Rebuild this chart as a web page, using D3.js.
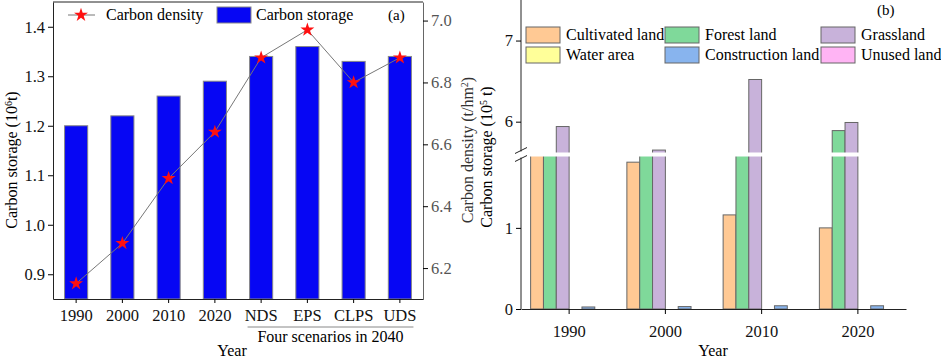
<!DOCTYPE html>
<html lang="en">
<head>
    <meta charset="UTF-8">
    <title>Carbon storage</title>
</head>
<body style="margin:0">
<svg id="chart" width="941" height="360"></svg>
</body>
<script src='https://d3js.org/d3.v7.min.js' type='text/javascript'></script>
<style>
    text { font-family: "Liberation Serif", "Times New Roman", serif; }
</style>
<script>
    // ---- panel (a) data
    var periods = ['1990', '2000', '2010', '2020', 'NDS', 'EPS', 'CLPS', 'UDS'];
    var storage = [1.20, 1.22, 1.26, 1.29, 1.34, 1.36, 1.33, 1.34];
    var density = [6.15, 6.28, 6.49, 6.64, 6.88, 6.97, 6.80, 6.88];
    var storageTicks = [0.9, 1.0, 1.1, 1.2, 1.3, 1.4];
    var densityTicks = [6.2, 6.4, 6.6, 6.8, 7.0];

    // ---- panel (b) data
    var years = ['1990', '2000', '2010', '2020'];
    var landTypes = ['Cultivated land', 'Forest land', 'Grassland', 'Water area', 'Construction land', 'Unused land'];
    var cultivated = [2.4, 1.81, 1.16, 1.00];
    var forest = [4.8, 5.0, 5.3, 5.89];
    var grassland = [5.94, 5.65, 6.52, 5.99];
    var water = [0, 0, 0, 0];
    var construction = [0.025, 0.03, 0.04, 0.04];
    var unused = [0, 0, 0, 0];
    var lowTicks = [0, 1];
    var highTicks = [6, 7];

    var svg = d3.select('#chart');
    var fs = 15;   // legend / titles
    var ts = 16.5; // tick labels

    // ================= panel (a)
    var ax = d3.scaleBand().domain(periods).range([53, 423]).paddingInner(0.5).paddingOuter(0.25);
    var yS = d3.scaleLinear().domain([0.85, 1.45]).range([299, 2]);
    var yD = d3.scaleLinear().domain([6.1, 7.06]).range([299, 2]);

    var pa = svg.append('g');

    pa.selectAll('rect.bar')
        .data(storage)
        .enter()
        .append('rect')
        .attr('class', 'bar')
        .attr('x', function (d, i) { return ax(periods[i]); })
        .attr('width', ax.bandwidth())
        .attr('y', function (d) { return yS(d); })
        .attr('height', function (d) { return yS(0.85) - yS(d); })
        .attr('fill', '#0606f4')
        .attr('stroke', '#888')
        .attr('stroke-width', 1);

    // frame top
    pa.append('line')
        .attr('x1', 53).attr('x2', 423)
        .attr('y1', yS(1.45)).attr('y2', yS(1.45))
        .attr('stroke', '#222');

    var leftAxis = pa.append('g')
        .attr('transform', 'translate(53,0)')
        .call(d3.axisLeft(yS).tickValues(storageTicks).tickFormat(d3.format('.1f')).tickSize(5).tickSizeOuter(0));
    var rightAxis = pa.append('g')
        .attr('transform', 'translate(423,0)')
        .call(d3.axisRight(yD).tickValues(densityTicks).tickFormat(d3.format('.1f')).tickSize(5).tickSizeOuter(0));
    var bottomAxis = pa.append('g')
        .attr('transform', 'translate(0,299)')
        .call(d3.axisBottom(ax).tickSize(4).tickSizeOuter(0));

    [leftAxis, rightAxis, bottomAxis].forEach(function (a) {
        a.selectAll('text').style('font-size', ts + 'px').attr('fill', '#111');
        a.select('.domain').attr('stroke', '#222');
    });
    rightAxis.selectAll('text').attr('fill', '#555');
    rightAxis.select('.domain').attr('stroke', '#666');
    bottomAxis.selectAll('text').attr('dy', '0.9em');

    // density line
    var line = d3.line()
        .x(function (d, i) { return ax(periods[i]) + ax.bandwidth() / 2; })
        .y(function (d) { return yD(d); });
    pa.append('path')
        .datum(density)
        .attr('d', line)
        .attr('fill', 'none')
        .attr('stroke', '#777')
        .attr('stroke-width', 1);

    var star = d3.symbol().type(d3.symbolStar).size(60);
    pa.selectAll('path.star')
        .data(density)
        .enter()
        .append('path')
        .attr('class', 'star')
        .attr('d', star)
        .attr('transform', function (d, i) {
            return 'translate(' + (ax(periods[i]) + ax.bandwidth() / 2) + ',' + yD(d) + ')';
        })
        .attr('fill', '#ff1010');

    // legend (a)
    pa.append('line').attr('x1', 68).attr('x2', 95).attr('y1', 15).attr('y2', 15).attr('stroke', '#777');
    pa.append('path').attr('d', star).attr('transform', 'translate(81,15)').attr('fill', '#ff1010');
    pa.append('text').attr('x', 106).attr('y', 20).style('font-size', '16px').text('Carbon density');
    pa.append('rect').attr('x', 217).attr('y', 7).attr('width', 34).attr('height', 16)
        .attr('fill', '#0606f4').attr('stroke', '#888');
    pa.append('text').attr('x', 256).attr('y', 20).style('font-size', '16px').text('Carbon storage');
    pa.append('text').attr('x', 388).attr('y', 20).style('font-size', fs + 'px').text('(a)');

    // scenario bracket
    pa.append('line')
        .attr('x1', ax('NDS') - 2).attr('x2', ax('UDS') + ax.bandwidth() + 2)
        .attr('y1', 327).attr('y2', 327)
        .attr('stroke', '#888');
    pa.append('text')
        .attr('x', (ax('NDS') + ax('UDS') + ax.bandwidth()) / 2).attr('y', 342)
        .attr('text-anchor', 'middle').style('font-size', '16px')
        .text('Four scenarios in 2040');
    pa.append('text')
        .attr('x', 232).attr('y', 356)
        .attr('text-anchor', 'middle').style('font-size', '16px')
        .text('Year');

    var yl = pa.append('text')
        .attr('transform', 'translate(17,160) rotate(-90)')
        .attr('text-anchor', 'middle').style('font-size', '16px');
    yl.append('tspan').text('Carbon storage (10');
    yl.append('tspan').attr('baseline-shift', 'super').style('font-size', '10px').text('6');
    yl.append('tspan').text('t)');

    var yr = pa.append('text')
        .attr('transform', 'translate(473,150) rotate(-90)')
        .attr('text-anchor', 'middle').style('font-size', '16px').attr('fill', '#333');
    yr.append('tspan').text('Carbon density (t/hm');
    yr.append('tspan').attr('baseline-shift', 'super').style('font-size', '10px').text('2');
    yr.append('tspan').text(')');

    // ================= panel (b)
    var series = [cultivated, forest, grassland, water, construction, unused];
    var colors = ['#ffc994', '#7fd99a', '#c8b2da', '#ffff99', '#88b4ee', '#ffb4f4'];

    var bx = d3.scaleBand().domain(years).range([521, 906]).paddingInner(0.2).paddingOuter(0.1);
    var bs = d3.scaleBand().domain(landTypes).range([0, bx.bandwidth()]);
    var lo = d3.scaleLinear().domain([0, 1.88]).range([309, 156.5]);
    var hi = d3.scaleLinear().domain([5.62, 7.5]).range([152.5, 0]);

    var pb = svg.append('g');

    series.forEach(function (vals, k) {
        vals.forEach(function (v, i) {
            if (v <= 0) return;
            var x = bx(years[i]) + bs(landTypes[k]);
            // lower segment
            var top = v > 1.88 ? lo(1.88) - 3 : lo(v);
            pb.append('rect')
                .attr('x', x).attr('width', bs.bandwidth())
                .attr('y', top).attr('height', lo(0) - top)
                .attr('fill', colors[k]).attr('stroke', '#666').attr('stroke-width', 1);
            // upper segment
            if (v > 5.62) {
                var bottom = hi(5.62) + 3;
                pb.append('rect')
                    .attr('x', x).attr('width', bs.bandwidth())
                    .attr('y', hi(v)).attr('height', bottom - hi(v))
                    .attr('fill', colors[k]).attr('stroke', '#666').attr('stroke-width', 1);
            }
        });
    });

    // break gap
    pb.append('rect')
        .attr('x', 523).attr('width', 906 - 523)
        .attr('y', hi(5.62)).attr('height', lo(1.88) - hi(5.62))
        .attr('fill', '#fff');

    var bl = pb.append('g')
        .attr('transform', 'translate(521,0)')
        .call(d3.axisLeft(lo).tickValues(lowTicks).tickFormat(d3.format('d')).tickSize(5).tickSizeOuter(0));
    var bh = pb.append('g')
        .attr('transform', 'translate(521,0)')
        .call(d3.axisLeft(hi).tickValues(highTicks).tickFormat(d3.format('d')).tickSize(5).tickSizeOuter(0));
    var bb = pb.append('g')
        .attr('transform', 'translate(0,309)')
        .call(d3.axisBottom(bx).tickSize(5).tickSizeOuter(0));
    [bl, bh, bb].forEach(function (a) {
        a.selectAll('text').style('font-size', ts + 'px').attr('fill', '#111');
        a.select('.domain').attr('stroke', '#222');
    });
    bb.selectAll('text').attr('dy', '1.2em');
    bl.select('.domain').attr('d', 'M0,' + lo(0) + 'V' + (lo(1.88) + 1));
    bh.select('.domain').attr('d', 'M0,' + (hi(5.62) - 1) + 'V' + hi(7.5));

    // break marks
    [hi(5.62) - 2, lo(1.88) + 2].forEach(function (yy) {
        pb.append('line')
            .attr('x1', 515).attr('x2', 527)
            .attr('y1', yy + 3).attr('y2', yy - 3)
            .attr('stroke', '#222');
    });

    // legend (b)
    var legCols = [526, 665, 821];
    var legRows = [35, 55];
    landTypes.forEach(function (name, k) {
        var cx = legCols[k % 3], cy = legRows[Math.floor(k / 3)];
        pb.append('rect')
            .attr('x', cx).attr('y', cy - 8).attr('width', 34).attr('height', 16)
            .attr('fill', colors[k]).attr('stroke', '#666');
        pb.append('text')
            .attr('x', cx + 40).attr('y', cy + 5)
            .style('font-size', '16px').text(name);
    });
    pb.append('text').attr('x', 877).attr('y', 15).style('font-size', fs + 'px').text('(b)');

    pb.append('text')
        .attr('x', 713).attr('y', 356)
        .attr('text-anchor', 'middle').style('font-size', '16px')
        .text('Year');

    var yb = pb.append('text')
        .attr('transform', 'translate(492,157) rotate(-90)')
        .attr('text-anchor', 'middle').style('font-size', '16px');
    yb.append('tspan').text('Carbon storage (10');
    yb.append('tspan').attr('baseline-shift', 'super').style('font-size', '10px').text('5');
    yb.append('tspan').text(' t)');
</script>
</html>
